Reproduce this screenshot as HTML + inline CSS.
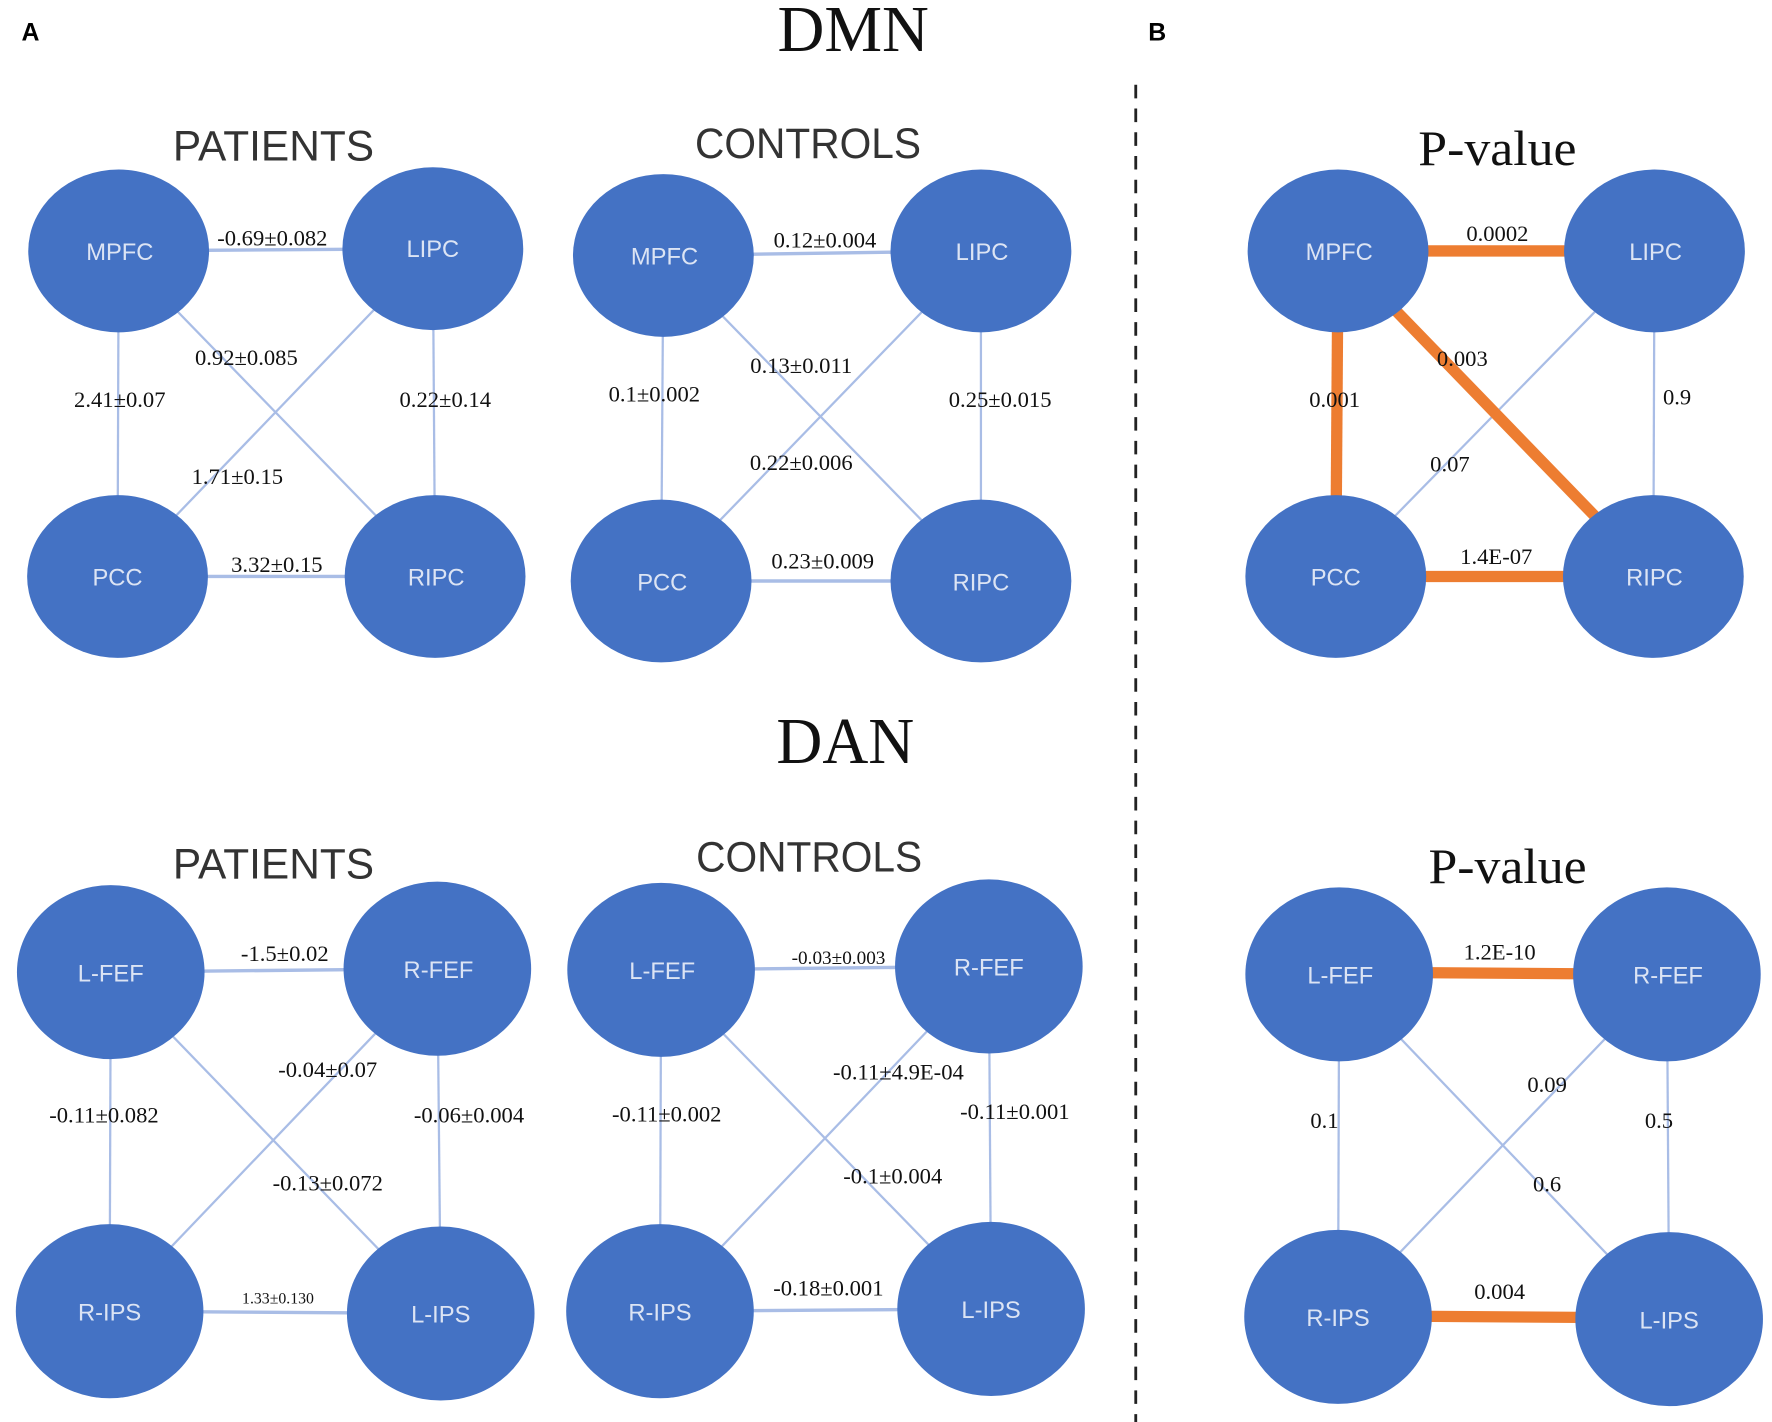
<!DOCTYPE html>
<html><head><meta charset="utf-8"><style>
html,body{margin:0;padding:0;background:#fff;}
svg{display:block;}
.n{fill:#4472C4;}
.t{font-family:"Liberation Sans",sans-serif;font-size:21px;fill:#dce4f4;text-anchor:middle;dominant-baseline:central;}
.e{stroke:#a9bde6;stroke-width:2;}
.o{stroke:#ED7D31;stroke-width:10;}
.l{font-family:"Liberation Serif",serif;font-size:20px;fill:#111;text-anchor:middle;}
.h{font-family:"Liberation Sans",sans-serif;font-size:38px;fill:#333;text-anchor:middle;}
.s{font-family:"Liberation Serif",serif;text-anchor:middle;fill:#111;}
</style></head><body>
<svg width="1772" height="1422" viewBox="0 0 1568 1258" preserveAspectRatio="none">
<text x="27" y="36" font-family="Liberation Sans,sans-serif" font-weight="bold" font-size="22" text-anchor="middle">A</text>
<text x="1024" y="36" font-family="Liberation Sans,sans-serif" font-weight="bold" font-size="22" text-anchor="middle">B</text>
<text x="755" y="45" class="s" font-size="58" textLength="134" lengthAdjust="spacingAndGlyphs">DMN</text>
<text x="748" y="675" class="s" font-size="58" textLength="122" lengthAdjust="spacingAndGlyphs">DAN</text>
<line x1="1005" y1="75" x2="1005" y2="1258" stroke="#222" stroke-width="2.5" stroke-dasharray="12,9"/>
<text x="242" y="142" class="h" textLength="178" lengthAdjust="spacingAndGlyphs">PATIENTS</text>
<text x="715" y="140" class="h" textLength="200" lengthAdjust="spacingAndGlyphs">CONTROLS</text>
<text x="1325" y="146" class="s" font-size="44" textLength="140" lengthAdjust="spacingAndGlyphs">P-value</text>
<text x="242" y="777" class="h" textLength="178" lengthAdjust="spacingAndGlyphs">PATIENTS</text>
<text x="716" y="771" class="h" textLength="200" lengthAdjust="spacingAndGlyphs">CONTROLS</text>
<text x="1334" y="781" class="s" font-size="44" textLength="140" lengthAdjust="spacingAndGlyphs">P-value</text>

<!-- DMN patients -->
<g class="e"><line x1="105" y1="222" x2="383" y2="220" stroke-width="3"/><line x1="105" y1="222" x2="104" y2="510"/><line x1="383" y1="220" x2="385" y2="510"/><line x1="105" y1="222" x2="385" y2="510"/><line x1="383" y1="220" x2="104" y2="510"/><line x1="104" y1="510" x2="385" y2="510" stroke-width="3"/></g>
<ellipse class="n" cx="105" cy="222" rx="80" ry="72"/><ellipse class="n" cx="383" cy="220" rx="80" ry="72"/><ellipse class="n" cx="104" cy="510" rx="80" ry="72"/><ellipse class="n" cx="385" cy="510" rx="80" ry="72"/>
<text class="t" x="106" y="224">MPFC</text><text class="t" x="383" y="221">LIPC</text><text class="t" x="104" y="512">PCC</text><text class="t" x="386" y="512">RIPC</text>
<text class="l" x="241" y="217">-0.69±0.082</text><text class="l" x="218" y="323">0.92±0.085</text><text class="l" x="106" y="360">2.41±0.07</text><text class="l" x="394" y="360">0.22±0.14</text><text class="l" x="210" y="428">1.71±0.15</text><text class="l" x="245" y="506">3.32±0.15</text>

<!-- DMN controls -->
<g class="e"><line x1="587" y1="226" x2="868" y2="222" stroke-width="3"/><line x1="587" y1="226" x2="585" y2="514"/><line x1="868" y1="222" x2="868" y2="514"/><line x1="587" y1="226" x2="868" y2="514"/><line x1="868" y1="222" x2="585" y2="514"/><line x1="585" y1="514" x2="868" y2="514" stroke-width="3"/></g>
<ellipse class="n" cx="587" cy="226" rx="80" ry="72"/><ellipse class="n" cx="868" cy="222" rx="80" ry="72"/><ellipse class="n" cx="585" cy="514" rx="80" ry="72"/><ellipse class="n" cx="868" cy="514" rx="80" ry="72"/>
<text class="t" x="588" y="228">MPFC</text><text class="t" x="869" y="224">LIPC</text><text class="t" x="586" y="516">PCC</text><text class="t" x="868" y="516">RIPC</text>
<text class="l" x="730" y="219">0.12±0.004</text><text class="l" x="709" y="330">0.13±0.011</text><text class="l" x="579" y="355">0.1±0.002</text><text class="l" x="885" y="360">0.25±0.015</text><text class="l" x="709" y="416">0.22±0.006</text><text class="l" x="728" y="503">0.23±0.009</text>

<!-- DMN p -->
<line class="e" x1="1464" y1="222" x2="1182" y2="510" stroke-width="1.5"/><line class="e" x1="1464" y1="222" x2="1463" y2="510" stroke-width="1.5"/>
<g class="o"><line x1="1184" y1="222" x2="1464" y2="222"/><line x1="1184" y1="222" x2="1182" y2="510"/><line x1="1184" y1="222" x2="1463" y2="510"/><line x1="1182" y1="510" x2="1463" y2="510"/></g>
<ellipse class="n" cx="1184" cy="222" rx="80" ry="72"/><ellipse class="n" cx="1464" cy="222" rx="80" ry="72"/><ellipse class="n" cx="1182" cy="510" rx="80" ry="72"/><ellipse class="n" cx="1463" cy="510" rx="80" ry="72"/>
<text class="t" x="1185" y="224">MPFC</text><text class="t" x="1465" y="224">LIPC</text><text class="t" x="1182" y="512">PCC</text><text class="t" x="1464" y="512">RIPC</text>
<text class="l" x="1325" y="213">0.0002</text><text class="l" x="1294" y="324">0.003</text><text class="l" x="1181" y="360">0.001</text><text class="l" x="1484" y="358">0.9</text><text class="l" x="1283" y="417">0.07</text><text class="l" x="1324" y="499">1.4E-07</text>

<!-- DAN patients -->
<g class="e"><line x1="98" y1="860" x2="387" y2="857" stroke-width="3"/><line x1="98" y1="860" x2="97" y2="1160"/><line x1="387" y1="857" x2="390" y2="1162"/><line x1="98" y1="860" x2="390" y2="1162"/><line x1="387" y1="857" x2="97" y2="1160"/><line x1="97" y1="1160" x2="390" y2="1162" stroke-width="3"/></g>
<ellipse class="n" cx="98" cy="860" rx="83" ry="77"/><ellipse class="n" cx="387" cy="857" rx="83" ry="77"/><ellipse class="n" cx="97" cy="1160" rx="83" ry="77"/><ellipse class="n" cx="390" cy="1162" rx="83" ry="77"/>
<text class="t" x="98" y="862">L-FEF</text><text class="t" x="388" y="859">R-FEF</text><text class="t" x="97" y="1162">R-IPS</text><text class="t" x="390" y="1164">L-IPS</text>
<text class="l" x="252" y="850">-1.5±0.02</text><text class="l" x="290" y="953">-0.04±0.07</text><text class="l" x="92" y="993">-0.11±0.082</text><text class="l" x="415" y="993">-0.06±0.004</text><text class="l" x="290" y="1053">-0.13±0.072</text><text class="l" x="246" y="1153" style="font-size:14px">1.33±0.130</text>

<!-- DAN controls -->
<g class="e"><line x1="585" y1="858" x2="875" y2="855" stroke-width="3"/><line x1="585" y1="858" x2="584" y2="1160"/><line x1="875" y1="855" x2="877" y2="1158"/><line x1="585" y1="858" x2="877" y2="1158"/><line x1="875" y1="855" x2="584" y2="1160"/><line x1="584" y1="1160" x2="877" y2="1158" stroke-width="3"/></g>
<ellipse class="n" cx="585" cy="858" rx="83" ry="77"/><ellipse class="n" cx="875" cy="855" rx="83" ry="77"/><ellipse class="n" cx="584" cy="1160" rx="83" ry="77"/><ellipse class="n" cx="877" cy="1158" rx="83" ry="77"/>
<text class="t" x="586" y="860">L-FEF</text><text class="t" x="875" y="857">R-FEF</text><text class="t" x="584" y="1162">R-IPS</text><text class="t" x="877" y="1160">L-IPS</text>
<text class="l" x="742" y="853" style="font-size:17px">-0.03±0.003</text><text class="l" x="795" y="955">-0.11±4.9E-04</text><text class="l" x="590" y="992">-0.11±0.002</text><text class="l" x="898" y="990">-0.11±0.001</text><text class="l" x="790" y="1047">-0.1±0.004</text><text class="l" x="733" y="1146">-0.18±0.001</text>

<!-- DAN p -->
<g class="e" stroke-width="1.5"><line x1="1185" y1="862" x2="1184" y2="1165"/><line x1="1475" y1="862" x2="1477" y2="1167"/><line x1="1185" y1="862" x2="1477" y2="1167"/><line x1="1475" y1="862" x2="1184" y2="1165"/></g>
<g class="o"><line x1="1185" y1="860" x2="1475" y2="862"/><line x1="1184" y1="1164" x2="1477" y2="1166"/></g>
<ellipse class="n" cx="1185" cy="862" rx="83" ry="77"/><ellipse class="n" cx="1475" cy="862" rx="83" ry="77"/><ellipse class="n" cx="1184" cy="1165" rx="83" ry="77"/><ellipse class="n" cx="1477" cy="1167" rx="83" ry="77"/>
<text class="t" x="1186" y="864">L-FEF</text><text class="t" x="1476" y="864">R-FEF</text><text class="t" x="1184" y="1167">R-IPS</text><text class="t" x="1477" y="1169">L-IPS</text>
<text class="l" x="1327" y="849">1.2E-10</text><text class="l" x="1369" y="966">0.09</text><text class="l" x="1172" y="998">0.1</text><text class="l" x="1468" y="998">0.5</text><text class="l" x="1369" y="1054">0.6</text><text class="l" x="1327" y="1149">0.004</text>
</svg>
</body></html>
